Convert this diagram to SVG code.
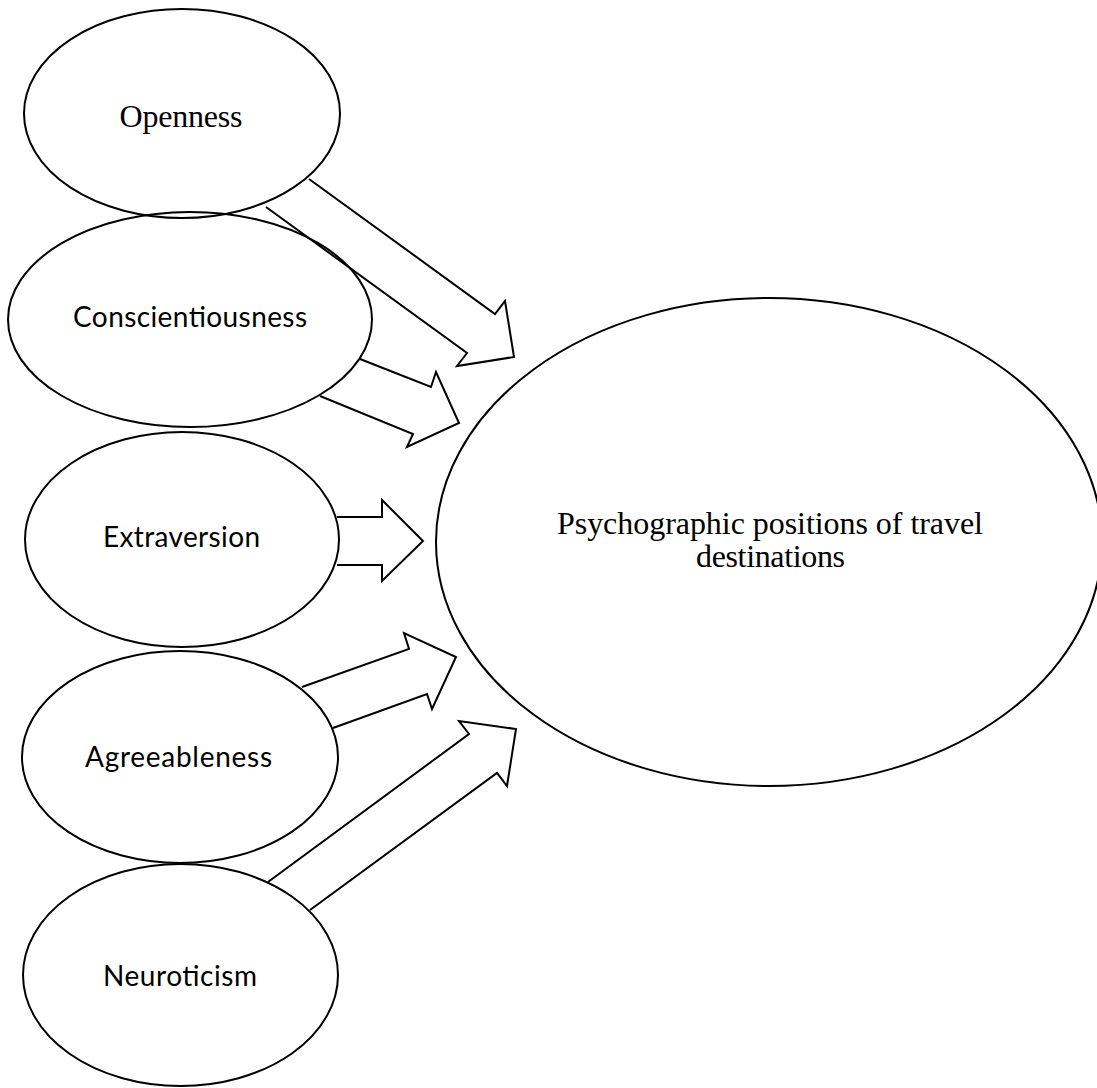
<svg xmlns="http://www.w3.org/2000/svg" width="1097" height="1088" viewBox="0 0 1097 1088">
<style>
.node{fill:none;stroke:#000;stroke-width:2}
.arr{fill:none;stroke:#000;stroke-width:2;stroke-linejoin:miter}
.serif{font-family:"Liberation Serif","Times New Roman",serif;font-size:32px;fill:#000;text-anchor:middle}
.sans{font-family:Lato,"Open Sans","Liberation Sans",sans-serif;font-size:28px;fill:#000;text-anchor:middle}
</style>
<rect width="1097" height="1088" fill="#fff"/>
<g id="connectors">
<path class="arr" d="M266,207 L467,353 L457,366 L514,357 L505,301 L495,314 L309,179"/>
<path class="arr" d="M320,396 L413,434 L407,447 L459,423 L436,372 L431,387 L360,359"/>
<path class="arr" d="M337,517 L382,517 L382,500 L423,541 L382,581 L382,565 L337,565"/>
<path class="arr" d="M302,687 L409,649 L404,633 L456,657 L432,709 L427,694 L333,728"/>
<path class="arr" d="M268,882 L469,734 L459,721 L516,729 L507,786 L497,773 L310,910"/>
</g>
<g id="openness">
<ellipse class="node" cx="182" cy="113.5" rx="158" ry="104.5"/>
<text class="serif" x="181" y="127" textLength="123">Openness</text>
</g>
<g id="conscientiousness">
<ellipse class="node" cx="190" cy="319.5" rx="182" ry="107.5"/>
<text class="sans" x="190" y="327" textLength="234">Conscientiousness</text>
</g>
<g id="extraversion">
<ellipse class="node" cx="182" cy="539.5" rx="157" ry="107.5"/>
<text class="sans" x="181.5" y="547" textLength="157">Extraversion</text>
</g>
<g id="agreeableness">
<ellipse class="node" cx="180" cy="757" rx="158" ry="106"/>
<text class="sans" x="178.5" y="767" textLength="187">Agreeableness</text>
</g>
<g id="neuroticism">
<ellipse class="node" cx="180.5" cy="975" rx="157.5" ry="111"/>
<text class="sans" x="180" y="986" textLength="154">Neuroticism</text>
</g>
<g id="destinations">
<ellipse class="node" cx="769" cy="542" rx="333" ry="244"/>
<text class="serif" x="770" y="534" textLength="426">Psychographic positions of travel</text>
<text class="serif" x="770.5" y="567" textLength="149">destinations</text>
</g>
</svg>
